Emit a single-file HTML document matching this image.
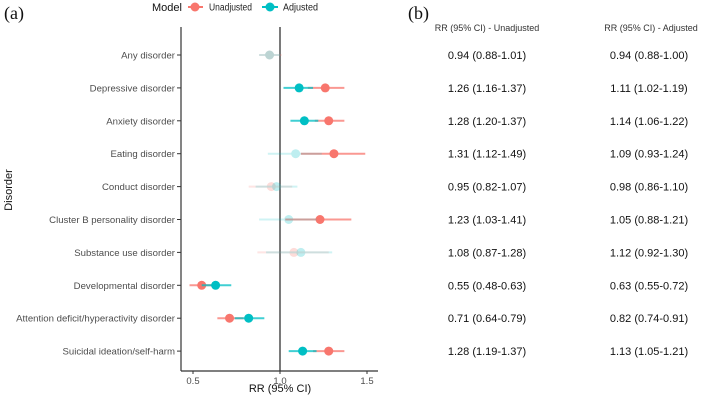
<!DOCTYPE html>
<html><head><meta charset="utf-8"><style>
body{margin:0;background:#fff;width:704px;height:400px;overflow:hidden;font-family:"Liberation Sans",sans-serif}
svg{display:block}
</style></head><body>
<svg id="c" width="704" height="400">
<text x="4" y="19" font-family="Liberation Serif" font-size="18" fill="#111">(a)</text>
<text x="408" y="19" font-family="Liberation Serif" font-size="18" fill="#111">(b)</text>
<g>
<text x="152" y="11" font-size="11" fill="#111">Model</text>
<g><line x1="188" y1="7" x2="203" y2="7" stroke="#F8766D" stroke-width="2"/><circle cx="195" cy="7" r="4.5" fill="#F8766D"/><text x="209" y="10.5" font-size="10" textLength="43" lengthAdjust="spacingAndGlyphs" fill="#222">Unadjusted</text></g>
<g><line x1="262" y1="7" x2="278" y2="7" stroke="#00BFC4" stroke-width="2"/><circle cx="270" cy="7" r="4.5" fill="#00BFC4"/><text x="283" y="10.5" font-size="10" textLength="35" lengthAdjust="spacingAndGlyphs" fill="#222">Adjusted</text></g>
</g>
<text transform="translate(12,190) rotate(-90)" text-anchor="middle" font-size="11" fill="#111">Disorder</text>
<text x="280" y="392" text-anchor="middle" font-size="11" fill="#111">RR (95% CI)</text>
<text x="487" y="31" text-anchor="middle" font-size="9" fill="#333">RR (95% CI) - Unadjusted</text>
<text x="651" y="31" text-anchor="middle" font-size="9" fill="#333">RR (95% CI) - Adjusted</text>
<g id="plot"></g>
</svg>
<script>
const categories=["Any disorder","Depressive disorder","Anxiety disorder","Eating disorder","Conduct disorder","Cluster B personality disorder","Substance use disorder","Developmental disorder","Attention deficit/hyperactivity disorder","Suicidal ideation/self-harm"];
const unadjRR=[0.94,1.26,1.28,1.31,0.95,1.23,1.08,0.55,0.71,1.28];
const unadjLo=[0.88,1.16,1.20,1.12,0.82,1.03,0.87,0.48,0.64,1.19];
const unadjHi=[1.01,1.37,1.37,1.49,1.07,1.41,1.28,0.63,0.79,1.37];
const adjRR=[0.94,1.11,1.14,1.09,0.98,1.05,1.12,0.63,0.82,1.13];
const adjLo=[0.88,1.02,1.06,0.93,0.86,0.88,0.92,0.55,0.74,1.05];
const adjHi=[1.00,1.19,1.22,1.24,1.10,1.21,1.30,0.72,0.91,1.21];
const xTicks=[0.5,1.0,1.5];
const xTickLabels=["0.5","1.0","1.5"];
const NS="http://www.w3.org/2000/svg";
const g=document.getElementById('plot');
const X=v=>193+(v-0.5)*174;
const Y=i=>55+i*32.9;
function mk(t,a,p){const e=document.createElementNS(NS,t);for(const k in a)e.setAttribute(k,a[k]);(p||g).appendChild(e);return e;}
const fmt=v=>v.toFixed(2);
let e=mk('line',{x1:181,y1:27,x2:181,y2:371,stroke:'#333','stroke-width':1.2});


e=mk('line',{x1:181,y1:371,x2:378,y2:371,stroke:'#333','stroke-width':1.2});


e=mk('line',{x1:X(1),y1:27,x2:X(1),y2:371,stroke:'#333','stroke-width':1.3});


xTicks.forEach((v,i)=>{
 mk('line',{x1:X(v),y1:371,x2:X(v),y2:374,stroke:'#333'});
 const t=mk('text',{x:X(v),y:384,'text-anchor':'middle','font-size':9.5,fill:'#4d4d4d'});t.textContent=xTickLabels[i];
 
 
});
function series(i,rr,lo,hi,col,name){
 const sig=!(lo<=1&&hi>=1);const op=sig?1:0.25;
 const gg=mk('g',{opacity:op});
 
 
 mk('line',{x1:X(lo),y1:Y(i),x2:X(hi),y2:Y(i),stroke:col,'stroke-width':2,'stroke-opacity':0.75},gg);
 mk('circle',{cx:X(rr),cy:Y(i),r:4.5,fill:col},gg);
}
categories.forEach((c,i)=>{
 mk('line',{x1:177,y1:Y(i),x2:181,y2:Y(i),stroke:'#333'});
 const t=mk('text',{x:175,y:Y(i)+3.5,'text-anchor':'end','font-size':9.6,fill:'#4d4d4d'});t.textContent=c;
 
 
 series(i,unadjRR[i],unadjLo[i],unadjHi[i],'#F8766D','point-unadjusted');
 series(i,adjRR[i],adjLo[i],adjHi[i],'#00BFC4','point-adjusted');
 const a=mk('text',{x:487,y:Y(i)+4,'text-anchor':'middle','font-size':11,fill:'#111'});
 a.textContent=fmt(unadjRR[i])+' ('+fmt(unadjLo[i])+'-'+fmt(unadjHi[i])+')';
 
 
 const b=mk('text',{x:649,y:Y(i)+4,'text-anchor':'middle','font-size':11,fill:'#111'});
 b.textContent=fmt(adjRR[i])+' ('+fmt(adjLo[i])+'-'+fmt(adjHi[i])+')';
 
 
});
</script>
</body></html>
